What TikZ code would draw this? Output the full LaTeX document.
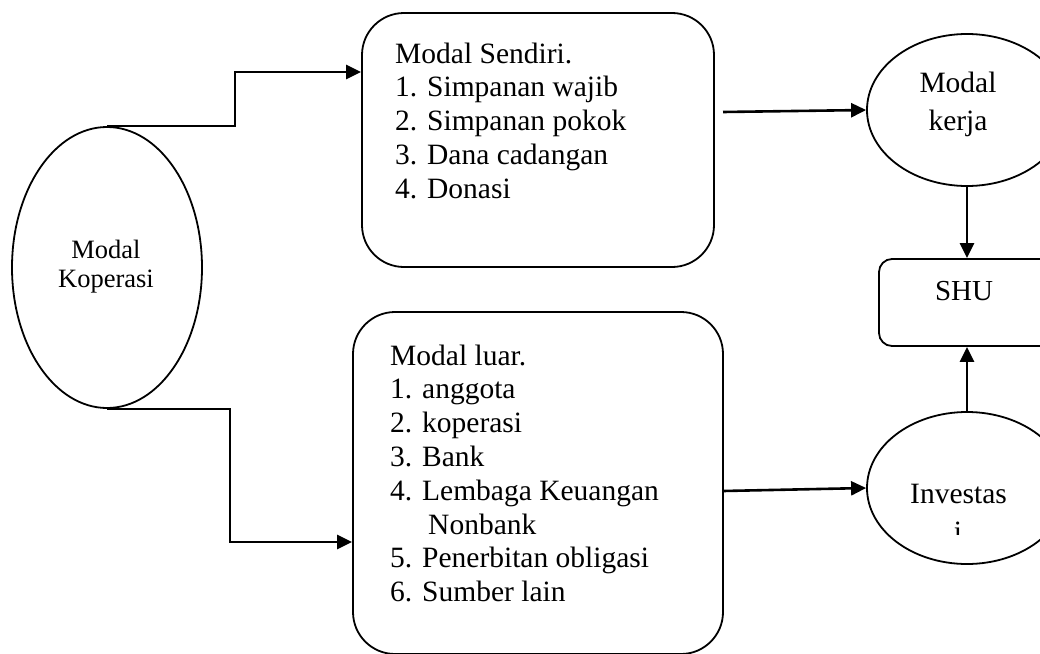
\documentclass[tikz,border=0pt]{standalone}
\usepackage{fontspec}
\setmainfont{Liberation Serif}
\usetikzlibrary{shapes.geometric,arrows.meta}
\begin{document}
\begin{tikzpicture}[x=1pt,y=-1pt,
  outline/.style={draw,line width=1.8pt,inner sep=0pt},
  box/.style={outline,rectangle,rounded corners=42pt},
  oval/.style={outline,ellipse},
  conn/.style={line width=2.6pt,-{Triangle[length=15pt,width=14pt]}},
  listtxt/.style={inner sep=0pt,font=\fontsize{29.5}{33.8}\selectfont,anchor=base west},
  ctxt/.style={inner sep=0pt,anchor=base}]
\useasboundingbox (0,0) rectangle (1040,653);
% shapes
\node[oval,minimum width=190pt,minimum height=281pt] (kop) at (107,267.5) {};
\node[box,minimum width=352pt,minimum height=254pt] (sendiri) at (538,140) {};
\node[box,minimum width=370pt,minimum height=342pt] (luar) at (538,483) {};
\node[oval,minimum width=200pt,minimum height=152pt] (kerja) at (967,110) {};
\node[box,rounded corners=13pt,minimum width=176pt,minimum height=87pt] (shu) at (967,302.5) {};
\node[oval,minimum width=200pt,minimum height=152pt] (inv) at (967,488) {};
% texts
\node[ctxt,font=\fontsize{26.5}{29}\selectfont] (kopT) at (106,258) {\begin{tabular}[t]{@{}c@{}}Modal\\Koperasi\end{tabular}};
\node[listtxt] (sendiriT) at (395,63) {\begin{tabular}[t]{@{}l@{}}Modal Sendiri.\\1. Simpanan wajib\\2. Simpanan pokok\\3. Dana cadangan\\4. Donasi\end{tabular}};
\node[listtxt] (luarT) at (390,365) {\begin{tabular}[t]{@{}l@{}}Modal luar.\\1. anggota\\2. koperasi\\3. Bank\\4. Lembaga Keuangan\\\hspace*{38pt}Nonbank\\5. Penerbitan obligasi\\6. Sumber lain\end{tabular}};
\node[ctxt,font=\fontsize{29.5}{38}\selectfont] (kerjaT) at (958,92) {\begin{tabular}[t]{@{}c@{}}Modal\\kerja\end{tabular}};
\node[ctxt,font=\fontsize{29}{33}\selectfont] (shuT) at (964,300) {SHU};
\node[ctxt,font=\fontsize{29.5}{38}\selectfont] (invT) at (958.5,503) {Investas};
\begin{scope}
  \clip (860,505) rectangle (1040,534);
  \node[ctxt,font=\fontsize{29.5}{38}\selectfont] (invT2) at (958,541) {i};
\end{scope}
% connectors
\coordinate (k1) at (235,72);
\coordinate (k2) at (230,542);
\coordinate (s1) at (723,112);
\coordinate (s2) at (723,491);
\draw[conn] (kop.north) -| (k1) -- (k1 -| sendiri.west);
\draw[conn] (kop.south) -| (k2) -- (k2 -| luar.west);
\draw[conn] (s1) -- (kerja.west);
\draw[conn] (s2) -- (inv.west);
\draw[conn] (kerja.south) -- (shu.north);
\draw[conn] (inv.north) -- (shu.south);
\end{tikzpicture}
\end{document}
